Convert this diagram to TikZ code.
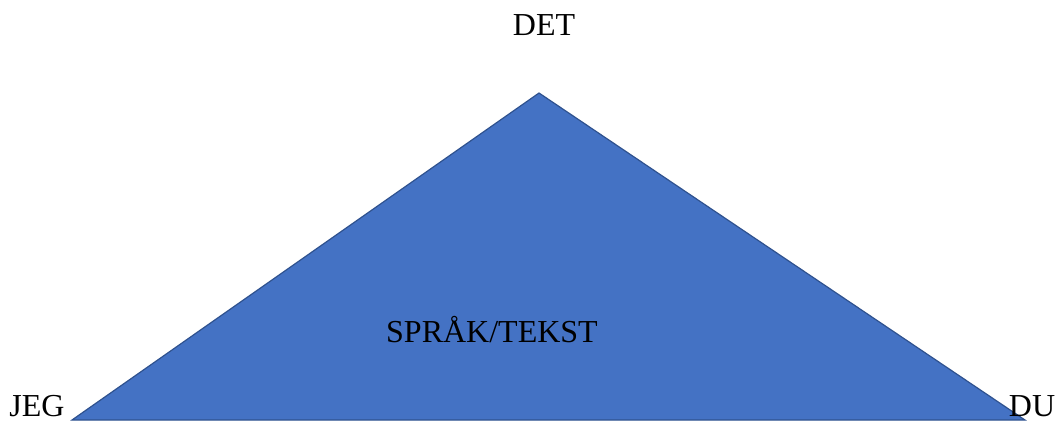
\documentclass[tikz,border=0pt]{standalone}
\usepackage{fontspec}
\setmainfont{Liberation Serif}
\definecolor{triFill}{HTML}{4472C4}
\definecolor{triEdge}{HTML}{2F528F}
\begin{document}
\begin{tikzpicture}[x=1pt,y=-1pt,
  lbl/.style={font=\fontsize{32}{36}\selectfont, inner sep=0pt, anchor=base},
  tri/.style={fill=triFill, draw=triEdge, line width=1.2pt, line join=miter}]
\useasboundingbox (0,0) rectangle (1055,421);
\coordinate (top) at (539,93);
\coordinate (left) at (72,420);
\coordinate (right) at (1025,420);
\filldraw[tri] (top) -- (right) -- (left) -- cycle;
\node[lbl] (det) at (544,35) {DET};
\node[lbl] (jeg) at (37,416) {JEG};
\node[lbl] (du) at (1032,416) {DU};
\node[lbl] (sprak) at (492,342) {SPRÅK/TEKST};
\end{tikzpicture}
\end{document}
